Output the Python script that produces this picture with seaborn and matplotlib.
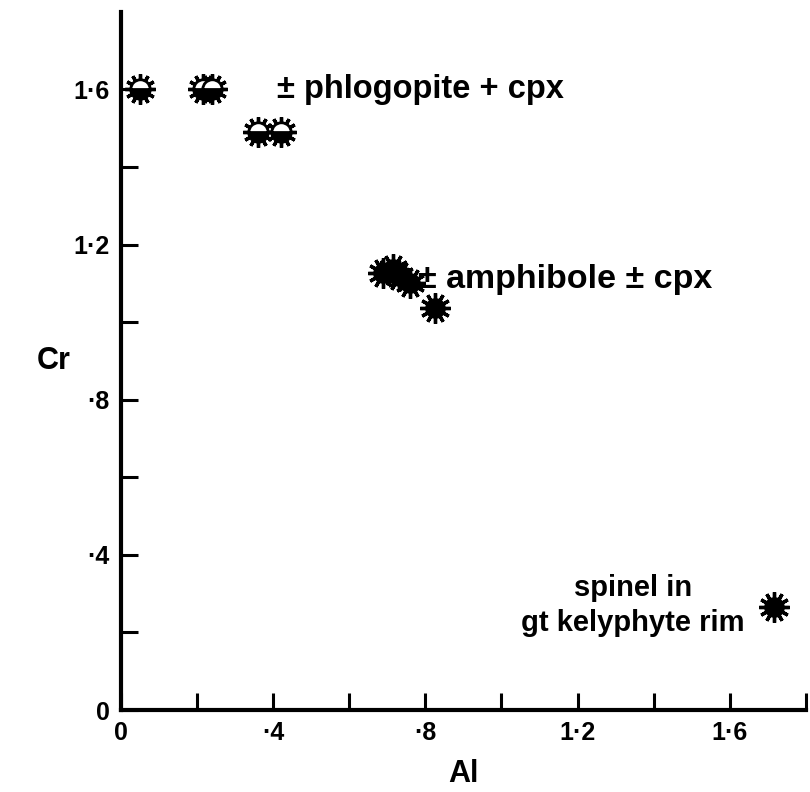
import matplotlib
matplotlib.use('Agg')
import matplotlib.pyplot as plt
import seaborn as sns
import pandas as pd

# phlogopite-bearing (half-filled suns)
phl_al = [0.05, 0.215, 0.24, 0.36, 0.42]
phl_cr = [1.60, 1.60, 1.60, 1.49, 1.49]

# amphibole-bearing (filled suns)
amp_al = [0.69, 0.715, 0.73, 0.76, 0.825]
amp_cr = [1.127, 1.137, 1.119, 1.101, 1.037]

# spinel in garnet kelyphyte rim
spl_al = [1.715]
spl_cr = [0.265]

x_ticks = [0, 0.2, 0.4, 0.6, 0.8, 1.0, 1.2, 1.4, 1.6, 1.8]
x_labels = ['0', '', '·4', '', '·8', '', '1·2', '', '1·6', '']
y_ticks = [0, 0.2, 0.4, 0.6, 0.8, 1.0, 1.2, 1.4, 1.6]
y_labels = ['0', '', '·4', '', '·8', '', '1·2', '', '1·6']

sns.set_style('ticks')
plt.rcParams['font.family'] = ['Liberation Sans', 'DejaVu Sans']
plt.rcParams['font.weight'] = 'bold'
plt.rcParams['text.color'] = 'black'
plt.rcParams['axes.labelcolor'] = 'black'
plt.rcParams['xtick.color'] = 'black'
plt.rcParams['ytick.color'] = 'black'

fig = plt.figure(figsize=(8.1, 7.92), dpi=100)
ax = fig.add_axes([0.149, 0.1035, 0.846, 0.8815])

amp = pd.DataFrame({'Al': amp_al + spl_al, 'Cr': amp_cr + spl_cr})

# spikes for all points
all_al = phl_al + amp_al + spl_al
all_cr = phl_cr + amp_cr + spl_cr
ax.plot(all_al, all_cr, ls='none', marker=(12, 2, 0), ms=22, mew=2.4,
        color='black', zorder=3)

# filled bodies
sns.scatterplot(data=amp, x='Al', y='Cr', ax=ax, color='black', s=220,
                edgecolor='black', linewidth=0, zorder=4)

# half-filled bodies
ax.plot(phl_al, phl_cr, ls='none', marker='o', ms=14, fillstyle='bottom',
        markerfacecolor='black', markerfacecoloralt='white',
        markeredgecolor='black', mew=2, zorder=4)

ax.text(0.41, 1.6, '± phlogopite + cpx', fontsize=23.5, fontweight='bold',
        va='center', ha='left')
ax.text(0.78, 1.11, '± amphibole ± cpx', fontsize=24.5, fontweight='bold',
        va='center', ha='left')
ax.text(1.345, 0.27, 'spinel in\ngt kelyphyte rim', fontsize=21,
        fontweight='bold', va='center', ha='center', linespacing=1.3)

ax.set_xlim(0, 1.8)
ax.set_ylim(0, 1.8)
ax.set_xticks(x_ticks)
ax.set_xticklabels(x_labels, fontsize=18, fontweight='bold')
ax.set_yticks(y_ticks)
ax.set_yticklabels(y_labels, fontsize=18, fontweight='bold')
ax.tick_params(direction='in', length=12, width=2.2, pad=8)
ax.set_xlabel('Al', fontsize=22, fontweight='bold', labelpad=10)
ax.set_ylabel('Cr', fontsize=22, fontweight='bold', rotation=0,
              labelpad=14, va='center')

for side in ['top', 'right']:
    ax.spines[side].set_visible(False)
for side in ['left', 'bottom']:
    ax.spines[side].set_linewidth(3)
    ax.spines[side].set_color('black')

fig.savefig('out.png', dpi=100)
